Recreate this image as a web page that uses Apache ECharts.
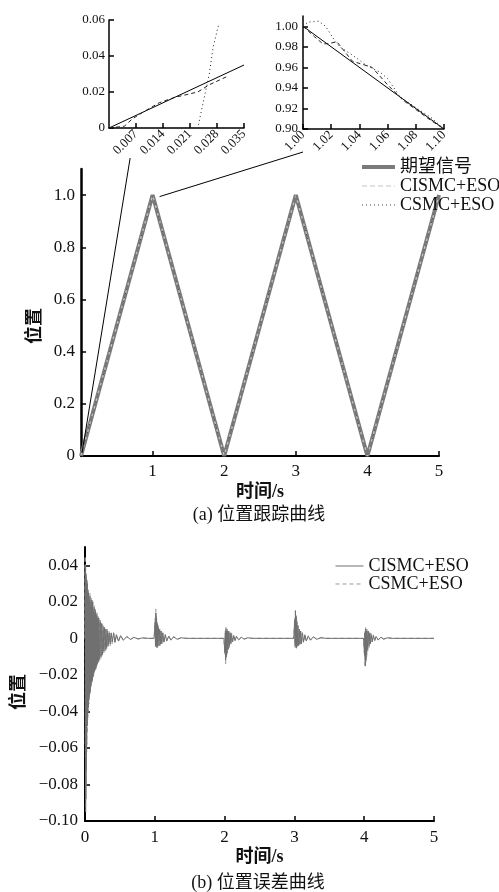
<!DOCTYPE html>
<html><head><meta charset="utf-8">
<script src="https://cdn.jsdelivr.net/npm/echarts@6/dist/echarts.min.js"></script>
<style>html,body{margin:0;padding:0;background:#fff}#c{width:499px;height:892px}</style>
</head><body><div id="c"></div><script>
// ---------- data ----------
const trackT      = [0, 1, 2, 3, 4, 5];
const trackRef    = [0, 1, 0, 1, 0, 1];
const trackCISMC  = [0, 1, 0, 1, 0, 1];
const trackCSMC   = [0, 1, 0, 1, 0, 1];

// inset 1 (start, 0 ~ 0.035 s)
const z1RefT = [0, 0.035];
const z1Ref  = [0, 0.035];
const z1CisT = [0, 0.004, 0.006, 0.009, 0.013, 0.017, 0.021, 0.023, 0.026, 0.029, 0.031];
const z1Cis  = [0, 0.001, 0.005, 0.009, 0.014, 0.017, 0.019, 0.020, 0.024, 0.027, 0.029];
const z1CsT  = [0, 0.023, 0.0245, 0.026, 0.027, 0.0285];
const z1Cs   = [0, 0, 0.015, 0.030, 0.045, 0.058];

// inset 2 (peak, 1.00 ~ 1.10 s)
const z2RefT = [1.0, 1.1];
const z2Ref  = [1.0, 0.9];
const z2CisT = [1.0, 1.008, 1.014, 1.018, 1.024, 1.035, 1.049, 1.060, 1.071, 1.081, 1.090, 1.1];
const z2Cis  = [1.0, 0.990, 0.983, 0.983, 0.985, 0.966, 0.960, 0.943, 0.928, 0.918, 0.909, 0.900];
const z2CsT  = [1.0, 1.0035, 1.011, 1.016, 1.023, 1.026, 1.035, 1.045, 1.055, 1.060, 1.069, 1.081, 1.092, 1.099];
const z2Cs   = [1.0, 1.004, 1.005, 1.000, 0.985, 0.980, 0.972, 0.962, 0.955, 0.949, 0.931, 0.920, 0.910, 0.901];

// error curves
const errT = [
  0, 0.003, 0.006, 0.009, 0.012, 0.015, 0.018, 0.021, 0.024, 0.027,
  0.030, 0.034, 0.038, 0.042, 0.046, 0.050, 0.055, 0.060, 0.065, 0.070,
  0.075, 0.080, 0.085, 0.090, 0.095, 0.100, 0.105, 0.110, 0.115, 0.120,
  0.125, 0.130, 0.135, 0.140, 0.145, 0.150, 0.155, 0.160, 0.165, 0.170,
  0.175, 0.180, 0.185, 0.190, 0.195, 0.200, 0.210, 0.220, 0.230, 0.240,
  0.250, 0.260, 0.270, 0.280, 0.290, 0.300, 0.310, 0.320, 0.330, 0.345,
  0.360, 0.375, 0.390, 0.410, 0.430, 0.450, 0.480, 0.510, 0.550, 0.600,
  0.650, 0.700, 0.760, 0.820, 0.900, 0.990, 1.000, 1.005, 1.010, 1.015,
  1.020, 1.025, 1.030, 1.035, 1.040, 1.050, 1.060, 1.070, 1.080, 1.090,
  1.100, 1.115, 1.130, 1.150, 1.170, 1.200, 1.230, 1.270, 1.320, 1.380,
  1.450, 1.990, 2.000, 2.005, 2.010, 2.015, 2.020, 2.025, 2.030, 2.035,
  2.040, 2.050, 2.060, 2.070, 2.080, 2.090, 2.100, 2.115, 2.130, 2.150,
  2.170, 2.200, 2.240, 2.280, 2.330, 2.400, 2.990, 3.000, 3.005, 3.010,
  3.015, 3.020, 3.025, 3.030, 3.035, 3.040, 3.050, 3.060, 3.070, 3.080,
  3.090, 3.100, 3.115, 3.130, 3.150, 3.170, 3.200, 3.230, 3.270, 3.320,
  3.380, 3.450, 3.990, 4.000, 4.005, 4.010, 4.015, 4.020, 4.025, 4.030,
  4.035, 4.040, 4.050, 4.060, 4.070, 4.080, 4.090, 4.100, 4.115, 4.130,
  4.150, 4.170, 4.200, 4.240, 4.280, 4.330, 4.400, 5.000
];
const errCISMC = [
  0, 0.040, -0.058, 0.036, -0.088, 0.030, -0.072, 0.033, -0.058, 0.025,
  -0.048, 0.030, -0.043, 0.022, -0.038, 0.025, -0.034, 0.020, -0.031, 0.023,
  -0.029, 0.018, -0.026, 0.021, -0.024, 0.016, -0.023, 0.020, -0.021, 0.015,
  -0.019, 0.017, -0.018, 0.013, -0.017, 0.015, -0.016, 0.012, -0.015, 0.013,
  -0.014, 0.011, -0.013, 0.011, -0.012, 0.010, -0.011, 0.009, -0.010, 0.008,
  -0.009, 0.006, -0.007, 0.006, -0.006, 0.005, -0.005, 0.004, -0.004, 0.003,
  -0.003, 0.003, -0.002, 0.003, -0.002, 0.002, -0.0015, 0.0015, -0.001, 0.001,
  -0.0006, 0.0005, -0.0003, 0.0002, 0, 0, 0, 0.009, -0.004, 0.014,
  -0.003, 0.011, -0.005, 0.008, -0.004, 0.006, -0.004, 0.005, -0.003, 0.004,
  -0.003, 0.003, -0.002, 0.002, -0.0015, 0.0012, -0.001, 0.0008, -0.0005, 0.0003,
  0, 0, 0, -0.008, 0.003, -0.012, 0.005, -0.010, 0.004, -0.008,
  0.004, -0.006, 0.004, -0.004, 0.003, -0.003, 0.002, -0.002, 0.0015, -0.0012,
  0.001, -0.0008, 0.0006, -0.0004, 0.0003, 0, 0, 0, 0.010, -0.004,
  0.015, -0.004, 0.012, -0.005, 0.009, -0.004, 0.007, -0.004, 0.005, -0.003,
  0.004, -0.003, 0.003, -0.002, 0.002, -0.0015, 0.0012, -0.001, 0.0008, -0.0005,
  0.0003, 0, 0, 0, -0.009, 0.003, -0.015, 0.005, -0.012, 0.004,
  -0.009, 0.004, -0.006, 0.004, -0.004, 0.003, -0.003, 0.002, -0.002, 0.0015,
  -0.0012, 0.001, -0.0008, 0.0006, -0.0004, 0.0003, 0, 0
];
const errCSMC = [
  0, 0.045, -0.065, 0.040, -0.095, 0.034, -0.080, 0.036, -0.062, 0.028,
  -0.052, 0.032, -0.045, 0.024, -0.040, 0.027, -0.036, 0.022, -0.033, 0.025,
  -0.030, 0.020, -0.027, 0.022, -0.025, 0.018, -0.024, 0.021, -0.022, 0.016,
  -0.020, 0.018, -0.019, 0.014, -0.018, 0.016, -0.017, 0.013, -0.016, 0.014,
  -0.015, 0.012, -0.014, 0.012, -0.013, 0.011, -0.012, 0.010, -0.011, 0.009,
  -0.010, 0.007, -0.008, 0.006, -0.007, 0.005, -0.006, 0.005, -0.005, 0.004,
  -0.004, 0.003, -0.003, 0.003, -0.0025, 0.002, -0.002, 0.0015, -0.0012, 0.001,
  -0.0008, 0.0006, -0.0004, 0.0003, 0, 0, 0, 0.011, -0.005, 0.016,
  -0.004, 0.012, -0.005, 0.009, -0.005, 0.007, -0.004, 0.005, -0.004, 0.004,
  -0.003, 0.003, -0.0025, 0.002, -0.0015, 0.0015, -0.001, 0.001, -0.0006, 0.0004,
  0, 0, 0, -0.009, 0.004, -0.014, 0.006, -0.011, 0.005, -0.009,
  0.005, -0.006, 0.004, -0.005, 0.003, -0.003, 0.003, -0.002, 0.002, -0.0015,
  0.0012, -0.001, 0.0007, -0.0005, 0.0003, 0, 0, 0, 0.011, -0.005,
  0.016, -0.005, 0.013, -0.006, 0.010, -0.005, 0.007, -0.004, 0.005, -0.004,
  0.004, -0.003, 0.003, -0.0025, 0.002, -0.0015, 0.0015, -0.001, 0.001, -0.0006,
  0.0004, 0, 0, 0, -0.010, 0.004, -0.016, 0.006, -0.013, 0.005,
  -0.010, 0.005, -0.007, 0.004, -0.005, 0.003, -0.003, 0.003, -0.002, 0.002,
  -0.0015, 0.001, -0.001, 0.0007, -0.0005, 0.0003, 0, 0
];

// labels
const legendTrack = ['期望信号', 'CISMC+ESO', 'CSMC+ESO'];
const legendErr = {eCISMC: 'CISMC+ESO', eCSMC: 'CSMC+ESO'};
const captionA = '(a) 位置跟踪曲线';
const captionB = '(b) 位置误差曲线';
const xName = '时间/s';
const yName = '位置';

// ---------- build ----------
const FONT = "'Liberation Serif', 'Times New Roman', 'Noto Sans CJK SC', serif";
const CJK = "'Liberation Serif', 'Noto Sans CJK SC', sans-serif";
const zip = (a, b) => a.map((v, i) => [v, b[i]]);
const minus = s => s.replace('-', '\u2212');

function axis(gridIndex, fs, extra) {
  const base = {
    gridIndex, type: 'value',
    axisLine: {show: true, onZero: false, lineStyle: {color: '#000', width: 2}},
    axisTick: {show: true, inside: true, length: 5, lineStyle: {color: '#000', width: 1.5}},
    splitLine: {show: false},
    axisLabel: {color: '#111', fontSize: fs, fontFamily: FONT}
  };
  const r = Object.assign({}, base, extra);
  r.axisLabel = Object.assign({}, base.axisLabel, extra.axisLabel || {});
  return r;
}
function line(name, xi, yi, data, color, width, type, z) {
  return {name, type: 'line', xAxisIndex: xi, yAxisIndex: yi, data, symbol: 'none',
    lineStyle: {color, width, type}, itemStyle: {color, opacity: 0}, z: z || 2, animation: false};
}
const STY = {
  ref:  {color: '#7a7a7a', width: 4, type: 'solid'},
  cis:  {color: '#c4c4c4', width: 1.2, type: [5, 3]},
  cs:   {color: '#444', width: 1.2, type: [1, 3]},
  ecis: {color: '#707070', width: 1, type: 'solid'},
  ecs:  {color: '#9a9a9a', width: 1, type: [4, 3]}
};
const legItem = (name, s, label) => ({name, lineStyle: {color: s.color, width: s.width, type: s.type},
  itemStyle: {opacity: 0}});

const chart = echarts.init(document.getElementById('c'), null, {renderer: 'canvas'});
const option = {
  backgroundColor: '#fff',
  animation: false,
  grid: [
    {left: 81, top: 169, width: 358, height: 287},
    {left: 109, top: 20, width: 135, height: 108},
    {left: 303, top: 16, width: 141, height: 113},
    {left: 85, top: 547, width: 349, height: 274}
  ],
  xAxis: [
    axis(0, 17, {min: 0, max: 5, interval: 1,
      axisLabel: {margin: 7, showMinLabel: false},
      name: xName, nameLocation: 'middle', nameGap: 27,
      nameTextStyle: {fontSize: 18, fontFamily: CJK, fontWeight: 'bold', color: '#111'}}),
    axis(1, 13, {min: 0, max: 0.035, interval: 0.007,
      axisLine: {show: true, onZero: false, lineStyle: {color: '#000', width: 1.5}},
      axisLabel: {rotate: 45, margin: 4, showMinLabel: false, formatter: v => v.toFixed(3)}}),
    axis(2, 13, {min: 1.0, max: 1.1, interval: 0.02,
      axisLine: {show: true, onZero: false, lineStyle: {color: '#000', width: 1.5}},
      axisLabel: {rotate: 45, margin: 4, formatter: v => v.toFixed(2)}}),
    axis(3, 17, {min: 0, max: 5, interval: 1,
      axisLabel: {margin: 8},
      name: xName, nameLocation: 'middle', nameGap: 27,
      nameTextStyle: {fontSize: 18, fontFamily: CJK, fontWeight: 'bold', color: '#111'}})
  ],
  yAxis: [
    axis(0, 17, {min: 0, max: 1.1, interval: 0.2,
      axisLine: {show: true, onZero: false, lineStyle: {color: '#000', width: 2.5}},
      axisLabel: {margin: 6, showMaxLabel: false, formatter: v => v === 0 ? '0' : v.toFixed(1)}}),
    axis(1, 13, {min: 0, max: 0.06, interval: 0.02,
      axisLine: {show: true, onZero: false, lineStyle: {color: '#000', width: 1.5}},
      axisLabel: {margin: 4, formatter: v => Math.abs(v) < 1e-9 ? '0' : v.toFixed(2)}}),
    axis(2, 13, {min: 0.9, max: 1.01, interval: 0.02,
      axisLine: {show: true, onZero: false, lineStyle: {color: '#000', width: 1.5}},
      axisLabel: {margin: 5, showMaxLabel: false, formatter: v => v.toFixed(2)}}),
    axis(3, 17, {min: -0.1, max: 0.05, interval: 0.02,
      axisLabel: {margin: 7, showMaxLabel: false,
        formatter: v => Math.abs(v) < 1e-9 ? '0' : minus(v.toFixed(2))}})
  ],
  legend: [
    {orient: 'vertical', left: 355, top: 153, itemWidth: 33, itemHeight: 10, itemGap: 1,
      data: [legItem(legendTrack[0], STY.ref), legItem(legendTrack[1], STY.cis), legItem(legendTrack[2], STY.cs)],
      selectedMode: false,
      textStyle: {fontSize: 18, fontFamily: CJK, color: '#111'}},
    {orient: 'vertical', left: 330, top: 552, itemWidth: 28, itemHeight: 10, itemGap: 0,
      data: [legItem('eCISMC', STY.ecis), legItem('eCSMC', STY.ecs)],
      selectedMode: false, formatter: n => legendErr[n],
      textStyle: {fontSize: 18, fontFamily: FONT, color: '#111'}}
  ],
  series: [
    line(legendTrack[0], 0, 0, zip(trackT, trackRef), STY.ref.color, STY.ref.width, STY.ref.type, 2),
    line(legendTrack[1], 0, 0, zip(trackT, trackCISMC), STY.cis.color, STY.cis.width, STY.cis.type, 3),
    line(legendTrack[2], 0, 0, zip(trackT, trackCSMC), STY.cs.color, STY.cs.width, STY.cs.type, 4),
    line('z1ref', 1, 1, zip(z1RefT, z1Ref), '#000', 1, 'solid'),
    line('z1cis', 1, 1, zip(z1CisT, z1Cis), '#222', 1, [4, 3]),
    line('z1cs', 1, 1, zip(z1CsT, z1Cs), '#222', 1, [1, 3]),
    line('z2ref', 2, 2, zip(z2RefT, z2Ref), '#000', 1, 'solid'),
    line('z2cis', 2, 2, zip(z2CisT, z2Cis), '#222', 1, [4, 3]),
    line('z2cs', 2, 2, zip(z2CsT, z2Cs), '#222', 1, [1, 3]),
    line('eCISMC', 3, 3, zip(errT, errCISMC), STY.ecis.color, STY.ecis.width, STY.ecis.type, 3),
    line('eCSMC', 3, 3, zip(errT, errCSMC), STY.ecs.color, STY.ecs.width, STY.ecs.type, 2)
  ]
};
chart.setOption(option);

// annotation: y names, captions, zoom connectors
const pMain0 = chart.convertToPixel({gridIndex: 0}, [0, 0]);
const pMainPk = chart.convertToPixel({gridIndex: 0}, [1, 1]);
const pZ1 = chart.convertToPixel({gridIndex: 1}, [0.006, 0]);
const pZ2 = chart.convertToPixel({gridIndex: 2}, [1.0, 0.9]);
const txt = (x, y, text, fs, bold, rot) => ({type: 'text', x, y, rotation: rot || 0,
  style: {text, fontSize: fs, fontFamily: CJK, fontWeight: bold ? 'bold' : 'normal',
    fill: '#111', align: 'center', verticalAlign: 'middle'}});
chart.setOption({graphic: [
  {type: 'line', shape: {x1: pMain0[0] + 1, y1: pMain0[1] - 3, x2: pZ1[0] - 2, y2: pZ1[1] + 30},
    style: {stroke: '#000', lineWidth: 1}, z: 10},
  {type: 'line', shape: {x1: pMainPk[0] + 7, y1: pMainPk[1] + 1.5, x2: pZ2[0], y2: pZ2[1] + 23},
    style: {stroke: '#000', lineWidth: 1}, z: 10},
  txt(35, 326, yName, 18, true, Math.PI / 2),
  txt(19, 692, yName, 18, true, Math.PI / 2),
  txt(259, 515, captionA, 18, false),
  txt(258, 883, captionB, 18, false)
]});
</script></body></html>
